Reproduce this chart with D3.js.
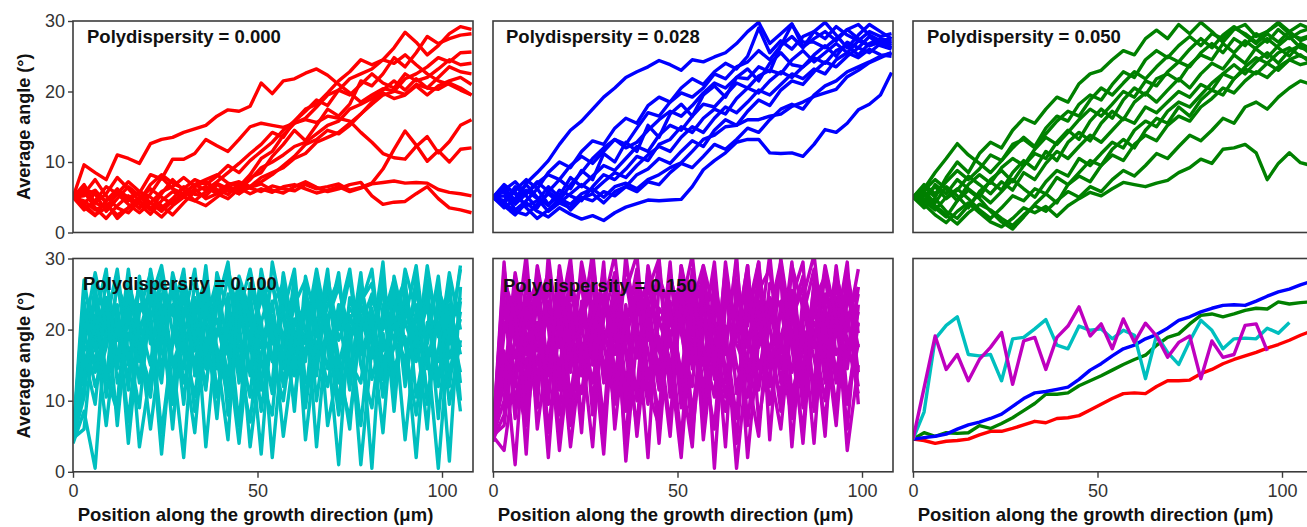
<!DOCTYPE html>
<html>
<head>
<meta charset="utf-8">
<script src="https://cdn.jsdelivr.net/npm/d3@7"></script>
<style>
  html, body { margin: 0; padding: 0; background: #fff; }
  svg { display: block; }
</style>
</head>
<body>
<svg id="chart" width="1307" height="527"></svg>
<script>
// Sampling positions along the growth direction (µm)
const positions = [0, 3, 6, 9, 12, 15, 18, 21, 24, 27, 30, 33, 36, 39, 42, 45, 48, 51, 54,
  57, 60, 63, 66, 69, 72, 75, 78, 81, 84, 87, 90, 93, 96, 99, 102, 105, 108];

const angleTicks = [0, 10, 20, 30];
const positionTicks = [0, 50, 100];
const polydispersities = ["0.000", "0.028", "0.050", "0.100", "0.150"];
const seriesColors = ["#ff0000", "#0000ff", "#008000", "#00bfbf", "#bf00bf"];

// Average angle per run, polydispersity 0.000
const runs000 = [
  [5, 9.6, 8.5, 7.5, 11, 10.5, 9.8, 12.6, 13.2, 13.5, 14.2, 14.7, 15.2, 16.5, 17.4, 17.2, 17.9, 21.2, 19.7, 21.5, 21.8, 22.6, 23.2, 22.3, 21, 19.8, 18.5, 19.5, 20.4, 20.1, 19.6, 21, 20.5, 20.3, 21.2, 20.5, 19.5],
  [5, 4.2, 5.5, 4.5, 6, 5, 5.6, 8.2, 7.6, 10.4, 10.4, 11.2, 13.2, 12.3, 11.5, 13.2, 15, 15.5, 15.2, 14.9, 15.5, 16, 15.6, 16.5, 16.2, 15.8, 14.2, 12.8, 11.2, 10.6, 10.4, 12.2, 13.6, 11.3, 12.9, 15.2, 16],
  [5, 6.5, 4.2, 3.5, 5.8, 4.8, 3.4, 5.5, 7.8, 6.2, 5.5, 6.8, 7.2, 6.1, 5.4, 6.9, 6.3, 5.8, 6.6, 6.2, 5.9, 6.8, 6.2, 6.5, 6.9, 6.0, 6.4, 7.0, 9.0, 11.8, 14.4, 12.4, 10.1, 11.6, 10.0, 11.8, 12.0],
  [5, 3.6, 2.4, 4.5, 6.2, 4.5, 5.8, 4.2, 3.5, 4.8, 6.5, 5.4, 5.2, 6.8, 5.9, 6.3, 5.5, 6.2, 5.7, 6.5, 6.8, 6.2, 5.6, 6.0, 6.5, 5.8, 6.3, 6.9, 7.1, 7.3, 7.0, 7.1, 7.0, 6.1, 5.7, 5.5, 5.2],
  [5, 5.8, 3.5, 2.0, 3.8, 5.2, 4.0, 2.6, 4.5, 5.8, 5.0, 6.2, 4.8, 5.5, 6.6, 5.8, 6.4, 6.9, 6.0, 5.6, 6.5, 7.2, 6.4, 5.8, 6.2, 6.8, 7.1, 5.2, 4.0, 4.3, 4.4, 5.5, 6.5, 4.8, 3.5, 3.2, 2.8],
  [5, 4.5, 3.2, 4.0, 2.5, 3.5, 5.0, 4.2, 3.0, 4.5, 5.5, 6.8, 6.0, 7.2, 8.5, 9.8, 11.2, 12.5, 14.2, 13.5, 15.8, 17.5, 18.2, 19.8, 21.5, 22.8, 24.5, 23.8, 24.5, 26.2, 28.4, 27.0, 25.2, 26.5, 28.2, 29.2, 28.8],
  [5, 6.2, 5.5, 3.0, 4.8, 6.5, 5.2, 3.5, 2.2, 3.8, 5.0, 4.5, 5.8, 7.0, 6.2, 5.5, 7.8, 8.5, 10.8, 12.5, 14.5, 13.0, 15.2, 17.5, 16.5, 18.2, 21.5, 20.8, 22.5, 24.8, 23.5, 25.5, 27.8, 26.8, 27.5, 28.0, 28.2],
  [5, 3.2, 4.5, 6.5, 5.5, 4.0, 2.8, 4.2, 5.8, 6.5, 7.8, 6.5, 7.2, 5.8, 6.8, 7.2, 6.5, 7.8, 8.5, 9.2, 10.5, 11.2, 12.8, 13.5, 14.2, 15.5, 16.8, 18.2, 19.5, 20.0, 21.8, 22.5, 23.5, 24.8, 24.2, 25.5, 25.6],
  [5, 5.5, 7.5, 5.2, 3.5, 2.8, 4.5, 6.8, 8.2, 7.0, 6.2, 7.5, 6.8, 8.0, 9.5, 8.5, 10.2, 11.5, 12.8, 14.5, 15.8, 17.2, 18.8, 18.0, 20.2, 19.5, 21.0, 22.5, 21.2, 20.5, 22.5, 21.5, 22.0, 23.2, 24.5, 23.8, 24.0],
  [5, 4.0, 2.5, 3.5, 5.5, 7.2, 5.8, 5.0, 3.8, 2.5, 4.2, 5.8, 6.5, 5.5, 4.8, 6.2, 7.5, 9.2, 10.0, 11.0, 12.2, 12.8, 14.0, 15.2, 15.8, 17.5, 18.2, 19.0, 20.2, 21.5, 20.2, 21.8, 20.5, 22.0, 23.5, 22.8, 22.5],
  [5, 6.8, 4.2, 5.5, 7.8, 6.2, 4.5, 3.2, 5.5, 7.5, 6.0, 4.5, 3.8, 5.0, 6.2, 5.5, 6.5, 7.2, 8.2, 9.5, 10.8, 12.5, 13.2, 14.5, 14.0, 15.2, 16.8, 18.5, 19.8, 19.0, 19.5, 20.8, 19.5, 20.8, 21.5, 22.0, 21.0],
  [5, 5.2, 6.0, 4.2, 2.0, 3.5, 4.8, 6.2, 5.0, 4.0, 5.5, 6.8, 7.5, 8.2, 7.0, 6.5, 8.2, 10.5, 11.5, 13.8, 15.5, 16.2, 17.8, 19.5, 20.2, 21.8, 22.5, 23.2, 24.5, 24.0, 25.2, 23.8, 22.5, 21.5, 21.0, 20.2, 19.5]
];

// Average angle per run, polydispersity 0.028
const runs028 = [
  [5, 6.5, 4.5, 7, 8.5, 10.2, 12.5, 14.5, 15.8, 17.5, 19.2, 20.5, 22.0, 22.8, 23.5, 24.4, 23.8, 23.0, 24.5, 24.2, 24.9, 25.5, 26.8, 28.5, 29.8, 26.8, 28.2, 29.6, 26.3, 27.5, 28.5, 27.2, 28.8, 27.5, 26.5, 27.2, 26.8],
  [5, 3.8, 2.5, 4.2, 3.0, 2.2, 3.5, 2.6, 1.9, 2.4, 1.7, 2.8, 3.6, 4.1, 4.6, 4.5, 4.6, 4.7, 6.5, 8.9, 10.2, 11.3, 12.8, 13.2, 13.2, 11.3, 11.2, 11.3, 10.8, 12.5, 14.6, 14.2, 15.5, 17.4, 18.2, 19.5, 22.7],
  [5, 4.5, 5.8, 3.5, 2.0, 3.2, 4.8, 4.0, 5.5, 6.2, 5.0, 6.5, 7.0, 6.2, 7.5, 8.2, 9.2, 9.9, 11.5, 13.2, 13.8, 15.0, 15.2, 16.0, 16.0, 16.5, 16.8, 17.9, 18.5, 19.3, 19.8, 20.3, 22.1, 23.0, 24.1, 24.8, 25.5],
  [5, 6.2, 4.0, 5.5, 7.2, 5.8, 4.5, 6.8, 8.5, 10.5, 12.0, 13.2, 12.5, 14.8, 17.0, 16.5, 18.5, 19.8, 19.2, 20.5, 22.5, 21.8, 23.5, 24.2, 25.8, 24.5, 26.5, 27.8, 26.2, 28.5, 29.8, 28.0, 26.2, 28.0, 29.5, 28.5, 27.5],
  [5, 4.0, 6.5, 5.2, 3.5, 5.8, 7.5, 6.2, 8.8, 7.5, 11.2, 10.0, 12.8, 11.5, 15.2, 13.5, 16.8, 18.2, 16.5, 19.5, 20.8, 19.2, 22.0, 23.2, 21.5, 24.0, 25.5, 23.8, 23.5, 25.2, 26.5, 25.0, 27.0, 26.2, 27.8, 26.5, 26.0],
  [5, 5.8, 3.2, 4.5, 6.2, 4.0, 5.2, 7.8, 6.5, 8.0, 9.5, 8.8, 10.5, 12.2, 11.5, 13.8, 15.2, 14.5, 16.5, 18.2, 17.8, 19.5, 21.2, 20.5, 22.2, 23.0, 22.5, 24.5, 25.8, 24.2, 25.5, 26.8, 25.5, 27.2, 26.5, 27.0, 26.5],
  [5, 3.5, 4.8, 6.8, 5.0, 3.8, 6.0, 5.2, 4.5, 6.5, 8.2, 7.5, 9.0, 10.8, 10.2, 12.5, 13.2, 15.0, 14.2, 16.2, 17.5, 16.8, 19.0, 20.5, 19.8, 21.5, 22.8, 22.0, 23.5, 24.8, 24.0, 25.8, 26.5, 25.2, 26.8, 27.5, 27.0],
  [5, 6.8, 5.5, 3.8, 4.5, 6.5, 5.0, 3.2, 4.8, 5.5, 4.2, 5.8, 6.5, 8.2, 9.0, 10.5, 9.8, 11.5, 13.0, 12.2, 14.5, 16.0, 15.2, 17.2, 18.8, 18.0, 20.2, 21.5, 21.0, 22.8, 24.2, 23.5, 25.0, 26.2, 25.5, 26.8, 26.2],
  [5, 4.5, 6.0, 7.5, 6.2, 8.5, 10.0, 9.2, 11.5, 13.0, 12.5, 14.8, 16.2, 15.5, 18.0, 19.2, 18.5, 20.5, 21.8, 21.0, 22.8, 24.0, 23.2, 25.0, 29.0, 25.5, 27.2, 26.0, 27.8, 28.5, 27.5, 29.2, 28.0, 27.2, 28.5, 27.8, 28.2],
  [5, 5.2, 4.2, 6.0, 4.8, 3.0, 4.2, 5.5, 6.8, 5.8, 7.2, 8.5, 7.8, 9.5, 11.0, 12.2, 11.5, 13.5, 15.0, 14.2, 16.2, 17.8, 17.0, 18.5, 20.2, 19.5, 21.0, 22.5, 21.8, 23.2, 22.5, 24.5, 25.5, 24.8, 26.0, 25.2, 25.0],
  [5, 4.2, 3.0, 2.5, 4.0, 5.5, 4.2, 3.5, 5.0, 4.5, 5.8, 5.2, 6.5, 5.8, 7.2, 6.8, 8.5, 9.8, 9.2, 10.8, 12.5, 11.8, 13.2, 14.8, 14.2, 16.0, 17.5, 18.2, 17.5, 19.5, 20.8, 21.5, 22.8, 23.5, 24.2, 25.0, 25.5],
  [5, 6.0, 7.2, 5.5, 7.0, 8.2, 7.5, 9.5, 10.8, 9.8, 11.5, 13.2, 12.0, 12.8, 14.5, 16.0, 17.2, 16.5, 18.0, 19.8, 21.2, 20.5, 22.0, 21.8, 23.5, 22.8, 26.5, 29.5, 27.0, 27.0, 26.2, 27.5, 28.8, 29.5, 28.0, 27.2, 27.5]
];

// Average angle per run, polydispersity 0.050
const runs050 = [
  [5, 6.5, 5.0, 7.8, 10.0, 8.5, 11.2, 12.8, 12.0, 14.5, 16.2, 15.5, 17.5, 19.2, 18.5, 21.1, 22.5, 23.0, 24.5, 25.8, 25.2, 27.5, 28.7, 27.5, 29.5, 28.2, 29.8, 28.5, 27.0, 28.8, 29.5, 27.8, 28.5, 29.6, 28.2, 27.5, 28.0],
  [5, 6.2, 8.5, 10.5, 12.6, 11.0, 9.8, 8.5, 10.2, 12.0, 13.5, 12.2, 14.8, 16.5, 15.8, 18.2, 19.5, 18.8, 21.0, 22.8, 22.0, 24.5, 25.8, 24.8, 26.5, 27.8, 26.5, 28.2, 27.5, 29.0, 28.2, 27.0, 28.5, 29.8, 28.5, 27.2, 27.8],
  [5, 4.0, 2.5, 1.4, 3.0, 4.2, 2.8, 1.5, 0.8, 2.0, 3.5, 2.8, 3.7, 2.3, 3.8, 4.8, 5.7, 5.2, 6.2, 7.1, 6.8, 6.5, 7.0, 7.4, 8.5, 9.2, 10.4, 9.8, 11.8, 12.0, 12.5, 11.3, 7.5, 9.8, 11.3, 9.9, 9.5],
  [5, 5.5, 3.5, 2.2, 4.5, 6.0, 4.8, 3.0, 1.5, 0.5, 2.2, 4.0, 5.5, 4.2, 6.8, 8.0, 7.2, 9.5, 11.0, 10.2, 12.5, 13.8, 13.0, 15.2, 16.5, 15.8, 17.8, 19.0, 20.5, 19.8, 21.5, 22.8, 22.0, 23.5, 24.5, 23.8, 24.2],
  [5, 4.2, 6.8, 5.5, 7.5, 6.2, 5.0, 7.5, 8.8, 7.2, 9.5, 11.2, 10.5, 12.8, 14.5, 13.2, 15.8, 17.5, 16.2, 18.8, 20.5, 19.5, 21.8, 22.5, 21.5, 23.8, 25.2, 24.5, 26.8, 25.5, 27.2, 26.0, 24.8, 26.5, 27.8, 26.2, 25.8],
  [5, 5.8, 4.2, 6.5, 5.2, 3.5, 5.8, 7.2, 6.0, 8.5, 10.2, 9.0, 11.5, 10.2, 12.8, 14.2, 13.0, 15.5, 17.2, 16.0, 18.5, 19.8, 18.5, 20.2, 21.8, 20.5, 22.5, 24.0, 23.2, 25.2, 24.0, 26.2, 27.5, 26.2, 25.0, 26.8, 26.0],
  [5, 3.5, 4.8, 3.0, 2.0, 3.8, 5.5, 4.2, 5.8, 7.5, 6.2, 5.0, 7.2, 8.8, 8.0, 10.5, 9.5, 11.2, 12.8, 12.0, 14.5, 15.8, 15.0, 17.2, 18.5, 17.8, 19.5, 21.2, 22.5, 21.8, 23.5, 24.8, 24.0, 25.5, 26.2, 25.0, 24.5],
  [5, 6.0, 7.5, 6.2, 4.5, 6.8, 8.2, 7.0, 9.2, 10.5, 9.5, 11.8, 13.5, 12.5, 14.2, 16.0, 17.5, 16.5, 18.2, 20.0, 19.2, 21.5, 20.8, 22.8, 24.2, 23.5, 25.5, 26.8, 25.5, 27.5, 26.5, 28.2, 27.0, 28.8, 27.5, 28.5, 29.0],
  [5, 4.5, 3.2, 5.0, 6.2, 4.8, 3.2, 2.0, 3.5, 5.2, 4.5, 6.2, 5.5, 7.8, 6.8, 8.5, 10.2, 9.5, 11.8, 13.2, 12.0, 14.5, 16.2, 15.5, 17.8, 16.5, 18.8, 20.2, 19.5, 21.8, 23.2, 22.5, 24.0, 23.0, 24.5, 25.2, 24.0],
  [5, 5.2, 6.5, 4.8, 6.0, 8.0, 6.8, 5.5, 7.2, 6.0, 8.5, 7.5, 9.8, 11.5, 10.5, 12.2, 13.8, 12.8, 14.5, 16.2, 15.5, 17.8, 17.0, 18.5, 20.0, 19.2, 21.0, 20.2, 22.5, 23.8, 22.5, 24.2, 25.5, 24.0, 25.8, 26.5, 25.2],
  [5, 4.8, 3.8, 2.5, 1.2, 2.8, 4.0, 3.2, 2.0, 1.0, 2.5, 3.8, 3.0, 4.5, 5.8, 5.0, 6.5, 5.8, 7.5, 8.8, 8.0, 9.5, 11.2, 10.5, 12.2, 13.8, 13.0, 14.5, 16.2, 15.5, 17.8, 18.5, 17.5, 19.2, 20.5, 21.5, 21.0],
  [5, 6.8, 5.5, 7.2, 8.8, 7.5, 9.0, 11.0, 10.2, 12.5, 13.2, 12.0, 14.0, 15.8, 17.2, 16.5, 18.8, 20.5, 19.5, 21.2, 22.8, 21.8, 23.5, 25.0, 24.2, 26.0, 27.5, 26.2, 28.0, 29.2, 28.0, 26.8, 28.2, 27.0, 28.5, 29.5, 28.8]
];

// Average angle per run, polydispersity 0.100 (0–105 µm)
const runs100 = [
  [4.5, 22.5, 15.0, 27.0, 18.5, 24.0, 12.5, 28.5, 20.0, 9.5, 25.5, 17.0, 29.0, 14.5, 22.0, 6.5, 26.5, 19.5, 11.0, 27.5, 16.5, 24.5, 3.5, 21.0, 28.0, 13.5, 23.5, 18.0, 29.5, 10.5, 25.0, 15.5, 27.0, 20.5, 12.0, 24.0],
  [5.0, 12.0, 26.5, 10.5, 23.0, 4.0, 19.5, 25.5, 14.0, 28.0, 21.5, 8.5, 17.5, 26.0, 11.5, 24.5, 19.0, 2.5, 22.0, 14.5, 27.5, 9.0, 20.5, 25.0, 16.0, 6.0, 23.5, 28.5, 15.0, 21.5, 4.5, 19.5, 26.0, 13.0, 22.5, 17.5],
  [4.0, 8.5, 0.5, 21.0, 28.5, 16.5, 13.5, 22.5, 5.5, 18.0, 27.0, 20.5, 12.0, 23.5, 29.5, 15.5, 7.0, 21.0, 26.5, 18.5, 10.0, 24.0, 19.0, 28.5, 12.5, 20.5, 1.0, 17.5, 25.5, 22.0, 14.0, 27.5, 9.5, 23.0, 18.5, 28.5],
  [5.5, 18.5, 24.0, 14.0, 9.5, 26.5, 21.0, 15.0, 28.0, 11.0, 19.5, 24.5, 3.5, 20.0, 16.5, 27.5, 22.5, 13.0, 8.0, 25.0, 20.0, 15.5, 28.0, 17.5, 22.5, 11.5, 26.0, 19.5, 5.5, 24.5, 21.0, 16.5, 29.0, 19.0, 25.5, 12.5],
  [4.8, 23.0, 19.5, 6.5, 20.5, 13.0, 27.5, 18.0, 23.5, 16.0, 2.0, 22.5, 27.0, 10.5, 19.0, 25.5, 13.5, 28.5, 20.5, 5.0, 17.0, 22.5, 13.5, 26.5, 20.0, 27.5, 15.0, 9.0, 21.5, 27.0, 18.0, 8.0, 20.5, 26.5, 16.0, 21.5],
  [5.2, 14.5, 21.5, 28.5, 12.5, 17.5, 9.0, 24.0, 29.0, 19.5, 14.5, 26.5, 21.5, 7.5, 25.0, 12.5, 22.0, 17.5, 24.0, 12.0, 26.0, 4.5, 18.0, 22.0, 9.5, 24.5, 19.5, 23.0, 13.0, 17.5, 28.5, 22.5, 11.0, 17.0, 28.0, 20.0],
  [4.2, 20.0, 12.0, 17.5, 26.0, 22.5, 3.5, 14.0, 20.5, 25.5, 12.5, 18.0, 24.5, 17.5, 10.5, 22.5, 28.5, 20.5, 15.5, 23.5, 8.5, 27.5, 21.0, 14.5, 23.5, 17.5, 28.0, 13.0, 19.5, 11.5, 23.5, 19.0, 24.5, 7.5, 23.5, 16.5],
  [5.0, 27.0, 17.0, 22.5, 15.5, 28.5, 16.5, 10.5, 25.0, 22.0, 28.5, 13.5, 21.0, 27.0, 17.0, 4.0, 19.5, 24.0, 27.0, 17.5, 23.5, 18.0, 25.5, 6.5, 15.0, 21.5, 24.0, 26.5, 17.0, 20.5, 15.5, 25.5, 18.0, 27.5, 13.5, 22.5],
  [4.6, 10.5, 25.0, 18.5, 21.5, 7.0, 22.5, 28.0, 17.0, 12.5, 21.5, 28.5, 14.5, 25.5, 8.0, 20.0, 25.0, 11.5, 29.5, 21.5, 13.5, 19.5, 28.5, 20.0, 8.0, 18.5, 22.0, 16.0, 27.5, 14.5, 19.0, 2.0, 21.0, 15.5, 20.5, 8.5],
  [5.3, 16.5, 9.5, 24.5, 16.5, 21.0, 25.5, 19.0, 12.5, 27.5, 16.5, 5.5, 22.5, 19.5, 27.5, 18.0, 10.5, 27.0, 18.0, 22.5, 28.5, 12.5, 16.0, 23.5, 27.0, 15.5, 12.5, 24.5, 20.0, 26.0, 12.0, 22.5, 14.5, 24.0, 9.5, 18.5],
  [4.4, 25.5, 21.0, 13.5, 8.5, 19.5, 15.5, 27.0, 22.5, 6.0, 23.0, 19.0, 11.5, 28.0, 22.5, 14.0, 24.5, 15.0, 12.5, 28.0, 19.0, 10.5, 24.5, 18.0, 1.0, 22.0, 17.0, 20.0, 25.5, 8.5, 26.0, 17.5, 23.5, 12.0, 26.5, 10.0],
  [5.1, 19.5, 28.0, 20.5, 14.5, 25.0, 19.0, 6.0, 18.5, 23.5, 9.5, 24.5, 18.0, 21.5, 13.5, 26.5, 21.5, 8.5, 21.0, 16.0, 23.5, 27.0, 10.0, 21.5, 26.0, 19.5, 6.5, 22.0, 14.0, 23.0, 27.0, 10.5, 19.5, 22.0, 18.0, 29.0],
  [4.7, 6.0, 22.0, 13.0, 27.0, 15.0, 23.5, 20.5, 2.5, 19.5, 25.0, 14.5, 26.5, 11.0, 20.5, 23.5, 14.0, 21.5, 2.0, 19.0, 24.5, 20.0, 14.5, 27.5, 18.5, 23.0, 20.5, 0.5, 23.5, 18.5, 24.5, 20.0, 6.0, 25.5, 21.5, 14.0],
  [5.0, 24.0, 14.0, 19.5, 23.5, 11.5, 26.5, 21.5, 27.0, 15.0, 20.0, 22.0, 16.5, 24.0, 28.5, 21.5, 3.5, 16.5, 23.5, 26.5, 14.0, 25.0, 20.5, 12.0, 22.0, 28.5, 16.5, 21.5, 10.5, 27.5, 20.5, 23.5, 17.5, 0.5, 20.0, 24.5],
  [4.9, 17.0, 20.0, 24.5, 6.5, 23.0, 17.5, 12.0, 21.5, 26.0, 18.5, 10.5, 23.5, 16.5, 4.5, 27.0, 18.0, 25.5, 16.0, 10.0, 21.5, 16.5, 26.5, 19.0, 13.5, 7.5, 20.5, 25.0, 18.5, 13.5, 21.5, 29.0, 16.0, 21.0, 1.5, 26.0]
];

// Average angle per run, polydispersity 0.150 (0–99 µm)
const runs150 = [
  [5.0, 28.5, 18.0, 30.5, 12.5, 24.0, 8.0, 27.5, 19.5, 31.0, 14.0, 22.5, 4.0, 26.0, 18.5, 29.5, 10.5, 23.0, 30.5, 15.5, 6.0, 25.0, 19.5, 29.0, 11.5, 21.5, 27.5, 3.5, 22.0, 28.5, 16.0, 24.5, 9.5, 21.0],
  [4.5, 8.0, 25.5, 14.0, 29.0, 20.5, 3.0, 17.5, 28.0, 9.5, 23.5, 30.5, 16.5, 6.5, 24.5, 13.0, 27.5, 21.0, 5.5, 19.5, 29.5, 12.5, 24.0, 2.0, 18.5, 30.5, 14.5, 23.0, 9.0, 27.0, 19.5, 6.5, 25.5, 17.5],
  [5.5, 17.0, 1.0, 22.5, 27.0, 11.0, 21.5, 30.0, 13.5, 19.0, 2.5, 25.5, 20.0, 28.5, 11.0, 19.0, 6.5, 29.0, 17.5, 24.5, 13.0, 20.5, 0.5, 16.0, 27.5, 20.5, 8.5, 25.0, 18.0, 12.5, 28.5, 21.0, 14.5, 26.0],
  [4.8, 23.5, 13.0, 6.5, 20.0, 15.5, 28.5, 9.0, 24.0, 16.5, 28.5, 10.5, 30.5, 18.0, 22.5, 4.0, 23.0, 13.5, 26.0, 9.5, 27.0, 18.0, 29.5, 13.5, 5.0, 23.5, 17.0, 29.5, 13.0, 20.0, 5.0, 27.5, 22.0, 12.0],
  [5.2, 12.5, 28.0, 19.0, 9.0, 30.5, 17.5, 22.0, 5.5, 28.0, 20.0, 13.5, 23.5, 10.0, 29.0, 21.5, 15.5, 2.0, 22.0, 27.5, 16.5, 8.5, 20.5, 26.5, 21.0, 12.0, 30.0, 19.5, 4.0, 23.5, 14.0, 29.0, 17.0, 25.0],
  [4.2, 26.0, 20.5, 10.5, 24.5, 5.5, 20.5, 14.0, 29.5, 21.5, 7.0, 27.0, 12.0, 24.5, 17.0, 8.0, 28.0, 19.5, 12.0, 29.0, 22.5, 3.5, 27.0, 17.5, 24.0, 9.5, 19.0, 24.5, 29.5, 8.5, 22.5, 12.5, 28.0, 19.5],
  [5.0, 3.0, 14.5, 26.5, 17.0, 22.0, 11.5, 25.5, 18.0, 3.5, 24.5, 16.5, 29.0, 21.5, 2.0, 26.5, 19.0, 24.5, 8.0, 21.5, 13.5, 28.5, 11.0, 22.5, 29.5, 14.5, 6.0, 21.5, 26.0, 19.0, 10.0, 24.5, 3.0, 15.0],
  [4.6, 19.5, 24.0, 2.5, 27.5, 14.0, 25.0, 6.5, 21.0, 26.5, 12.5, 19.5, 8.5, 27.5, 21.0, 14.5, 29.5, 10.5, 20.0, 15.0, 26.0, 19.0, 7.5, 28.0, 14.5, 20.5, 28.0, 11.0, 17.0, 24.0, 27.5, 16.5, 20.0, 28.5],
  [5.3, 29.5, 9.5, 18.5, 23.0, 28.0, 4.5, 20.5, 26.5, 15.0, 29.5, 6.0, 20.5, 16.0, 25.5, 30.0, 12.5, 22.5, 27.0, 4.5, 18.5, 25.0, 15.0, 10.5, 25.5, 28.5, 16.5, 7.5, 24.5, 30.5, 17.0, 22.0, 6.0, 23.5],
  [4.4, 14.0, 21.5, 28.5, 6.0, 18.0, 25.5, 16.5, 11.0, 22.5, 17.5, 26.5, 1.5, 19.0, 9.5, 23.0, 20.5, 27.5, 14.5, 25.0, 0.5, 23.5, 26.0, 19.5, 12.0, 26.5, 23.0, 14.0, 21.0, 4.0, 25.0, 19.0, 26.5, 14.0],
  [5.1, 6.5, 19.0, 12.5, 25.0, 9.5, 29.0, 19.0, 27.5, 8.0, 21.5, 28.0, 17.5, 11.5, 28.5, 18.0, 5.0, 25.5, 16.5, 22.5, 27.5, 14.0, 19.0, 29.0, 7.0, 17.5, 22.5, 25.5, 11.5, 21.0, 18.5, 28.0, 10.5, 18.0],
  [4.9, 24.5, 7.5, 21.5, 15.0, 26.5, 13.0, 29.0, 14.5, 24.0, 5.0, 23.5, 25.5, 30.5, 13.0, 21.0, 24.0, 9.0, 28.5, 11.0, 24.0, 16.5, 30.5, 6.5, 22.5, 17.0, 10.5, 29.0, 23.0, 16.0, 7.5, 20.0, 29.5, 9.5],
  [5.0, 10.0, 27.5, 16.5, 21.0, 2.0, 23.0, 10.5, 22.0, 29.5, 18.0, 9.5, 22.5, 5.0, 20.0, 27.5, 22.5, 14.0, 3.5, 26.5, 19.5, 10.5, 24.5, 20.5, 29.5, 4.5, 24.0, 19.5, 14.5, 26.0, 20.5, 9.0, 24.5, 20.5],
  [4.7, 21.0, 16.0, 24.5, 11.0, 28.5, 20.0, 3.5, 17.0, 21.5, 27.0, 14.0, 18.5, 25.5, 11.5, 6.5, 26.5, 20.5, 25.0, 17.5, 10.5, 29.5, 18.0, 14.0, 21.0, 24.5, 12.5, 22.0, 27.5, 10.0, 23.5, 14.0, 21.5, 26.0],
  [5.4, 27.0, 22.0, 8.0, 28.5, 20.5, 15.0, 23.5, 7.5, 20.0, 25.0, 20.5, 10.5, 22.5, 27.0, 17.0, 13.0, 29.0, 21.5, 7.0, 24.5, 20.0, 4.0, 25.5, 17.5, 22.5, 29.5, 17.5, 5.5, 25.5, 12.5, 26.5, 18.5, 11.0],
  [4.3, 16.5, 12.0, 23.0, 19.0, 13.5, 26.5, 17.5, 20.5, 12.5, 24.0, 19.5, 27.0, 17.5, 21.5, 11.5, 19.0, 4.5, 23.5, 29.0, 15.0, 26.5, 21.5, 17.5, 27.0, 15.5, 19.0, 9.5, 20.0, 17.5, 29.0, 21.5, 16.0, 22.5]
];

// Mean over runs for each polydispersity
const mean000 = [4.6, 4.4, 4.0, 4.3, 4.4, 4.6, 5.2, 5.7, 5.7, 6.1, 6.6, 7.1, 6.9, 7.5, 7.6, 7.9, 8.7, 9.5, 10.3, 11.0, 11.1, 11.0, 12.0, 12.8, 12.8, 12.9, 13.8, 14.4, 15.2, 15.8, 16.3, 16.8, 17.4, 17.9, 18.5, 19.2, 19.8];
const mean028 = [4.6, 4.8, 5.0, 5.3, 6.0, 6.6, 7.0, 7.5, 8.1, 9.2, 10.3, 11.1, 11.3, 11.6, 11.9, 13.0, 14.3, 15.2, 16.3, 17.3, 17.8, 18.7, 19.3, 20.2, 21.3, 21.8, 22.5, 23.0, 23.4, 23.5, 23.4, 24.0, 24.7, 25.3, 25.7, 26.3, 26.8];
const mean050 = [4.6, 5.5, 5.0, 5.5, 5.4, 5.5, 6.5, 6.1, 6.8, 7.6, 8.6, 9.6, 10.9, 10.9, 11.1, 12.1, 12.8, 13.5, 14.3, 15.1, 15.8, 16.4, 17.8, 18.9, 19.4, 20.8, 22.0, 22.2, 21.8, 22.2, 22.7, 23.0, 22.9, 23.9, 23.6, 23.8, 23.9];
const mean100 = [4.6, 8.4, 18.7, 20.6, 21.8, 16.5, 16.3, 16.5, 12.8, 18.7, 18.9, 20.1, 21.4, 17.8, 17.3, 20.5, 19.9, 20.1, 18.7, 19.9, 19.2, 13.1, 19.2, 16.8, 15.1, 18.4, 21.3, 19.9, 17.3, 18.7, 18.8, 18.7, 20.2, 19.5, 21.0];
const mean150 = [4.6, 11.8, 19.1, 14.4, 16.5, 12.8, 15.8, 17.5, 19.6, 12.3, 18.4, 18.9, 14.4, 18.9, 20.5, 23.2, 19.1, 20.8, 17.3, 21.5, 18.2, 20.9, 19.1, 16.1, 18.2, 19.1, 13.1, 18.4, 16.1, 16.5, 20.6, 20.8, 17.0];

// ---- layout ----
const colLeft = [73, 493, 913];
const panelWidth = 400;
const rowTop = [21, 258.5];
const rowBottom = [232.5, 471.8];
const font = "'Liberation Sans', Arial, Helvetica, sans-serif";

const svg = d3.select("#chart");

const x = d3.scaleLinear().domain([0, 108.4]);

const panels = [
  { col: 0, row: 0, runs: runs000, color: seriesColors[0], title: polydispersities[0], tdx: 14, tdy: 22 },
  { col: 1, row: 0, runs: runs028, color: seriesColors[1], title: polydispersities[1], tdx: 13, tdy: 22 },
  { col: 2, row: 0, runs: runs050, color: seriesColors[2], title: polydispersities[2], tdx: 14, tdy: 22 },
  { col: 0, row: 1, runs: runs100, color: seriesColors[3], title: polydispersities[3], tdx: 10, tdy: 31.5 },
  { col: 1, row: 1, runs: runs150, color: seriesColors[4], title: polydispersities[4], tdx: 10, tdy: 33 },
  { col: 2, row: 1, means: [mean000, mean028, mean050, mean100, mean150] }
];

panels.forEach((p, k) => {
  const left = colLeft[p.col];
  const top = rowTop[p.row];
  const bottom = rowBottom[p.row];
  const xs = x.copy().range([left, left + panelWidth]);
  const ys = d3.scaleLinear().domain([0, 30]).range([bottom, top]);

  const clipId = "clip" + k;
  svg.append("clipPath").attr("id", clipId)
    .append("rect")
    .attr("x", left).attr("y", top)
    .attr("width", panelWidth).attr("height", bottom - top);

  const g = svg.append("g");

  const line = d3.line()
    .x((d, i) => xs(positions[i]))
    .y(d => ys(d));

  const plot = g.append("g").attr("clip-path", `url(#${clipId})`);

  if (p.runs) {
    plot.selectAll("path")
      .data(p.runs)
      .join("path")
      .attr("d", line)
      .attr("fill", "none")
      .attr("stroke", p.color)
      .attr("stroke-width", 3.4)
      .attr("stroke-linejoin", "round");
  } else {
    const order = [0, 2, 1, 3, 4];
    plot.selectAll("path")
      .data(order)
      .join("path")
      .attr("d", i => line(p.means[i]))
      .attr("fill", "none")
      .attr("stroke", i => seriesColors[i])
      .attr("stroke-width", 3.4)
      .attr("stroke-linejoin", "round");
  }

  if (p.title) {
    g.append("text")
      .attr("x", left + p.tdx)
      .attr("y", top + p.tdy)
      .attr("font-family", font)
      .attr("font-weight", "bold")
      .attr("font-size", 18.5)
      .attr("fill", "#111")
      .text("Polydispersity = " + p.title);
  }

  // frame
  g.append("rect")
    .attr("x", left).attr("y", top)
    .attr("width", panelWidth).attr("height", bottom - top)
    .attr("fill", "none")
    .attr("stroke", "#3c3c3c")
    .attr("stroke-width", 1.6);

  // y axis on the left column
  if (p.col === 0) {
    const ya = g.append("g")
      .attr("transform", `translate(${left},0)`)
      .call(d3.axisLeft(ys).tickValues(angleTicks).tickSize(5).tickPadding(3));
    ya.select(".domain").remove();
    ya.selectAll(".tick line").attr("stroke", "#3c3c3c").attr("stroke-width", 1.4);
    ya.selectAll(".tick text")
      .attr("font-family", font).attr("font-size", 18).attr("fill", "#333");

    g.append("text")
      .attr("transform", `translate(30,${(top + bottom) / 2}) rotate(-90)`)
      .attr("text-anchor", "middle")
      .attr("font-family", font)
      .attr("font-weight", "bold")
      .attr("font-size", 18)
      .attr("fill", "#111")
      .text("Average angle (°)");
  }

  // x axis on the bottom row
  if (p.row === 1) {
    const xa = g.append("g")
      .attr("transform", `translate(0,${bottom})`)
      .call(d3.axisBottom(xs).tickValues(positionTicks).tickSize(6).tickPadding(6));
    xa.select(".domain").remove();
    xa.selectAll(".tick line").attr("stroke", "#3c3c3c").attr("stroke-width", 1.4);
    xa.selectAll(".tick text")
      .attr("font-family", font).attr("font-size", 18).attr("fill", "#333");

    g.append("text")
      .attr("x", xs(50) - 2)
      .attr("y", 521)
      .attr("text-anchor", "middle")
      .attr("font-family", font)
      .attr("font-weight", "bold")
      .attr("font-size", 18.5)
      .attr("fill", "#111")
      .text("Position along the growth direction (μm)");
  }
});
</script>
</body>
</html>
